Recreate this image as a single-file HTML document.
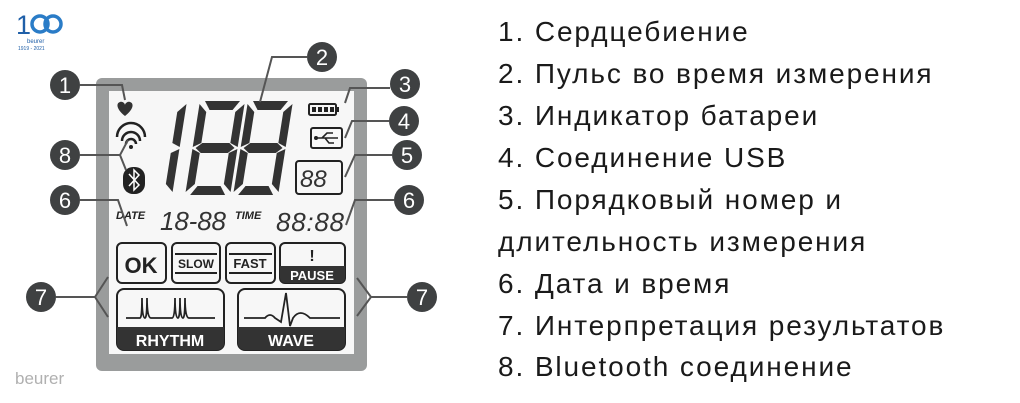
<!DOCTYPE html>
<html><head><meta charset="utf-8"><style>
html,body{margin:0;padding:0;background:#fff;width:1020px;height:403px;overflow:hidden}
svg{position:absolute;left:0;top:0}
.t{font-family:"Liberation Sans",sans-serif;font-size:28px;fill:#1a1a1a;letter-spacing:1.9px}
</style></head><body>
<svg width="1020" height="403" viewBox="0 0 1020 403">
<defs>
<g id="d8" fill="#333">
<polygon points="5,0 40,0 34,9 11,9"/>
<polygon points="0,3 8,11 8,42 0,46"/>
<polygon points="45,3 45,46 37,42 37,11"/>
<polygon points="3,47 9,42 36,42 42,47 36,52 9,52"/>
<polygon points="0,48 8,52 8,83 0,91"/>
<polygon points="45,48 45,91 37,83 37,52"/>
<polygon points="11,85 34,85 40,94 5,94"/>
</g>
</defs>
<!-- logo -->
<text x="16" y="34" font-family="Liberation Sans,sans-serif" font-size="27" fill="#1f5fa8" letter-spacing="-3">1</text>
<circle cx="40" cy="24" r="8" fill="none" stroke="#2a7cc7" stroke-width="3.5"/>
<circle cx="53" cy="24" r="8" fill="none" stroke="#2a7cc7" stroke-width="3.5"/>
<text x="27" y="43" font-family="Liberation Sans,sans-serif" font-size="6" fill="#1f5fa8">beurer</text>
<text x="18" y="50" font-family="Liberation Sans,sans-serif" font-size="5" fill="#1f5fa8">1919 - 2021</text>
<text x="15" y="384" font-family="Liberation Sans,sans-serif" font-size="17" fill="#b0b0b0">beurer</text>
<!-- frame -->
<rect x="96" y="78" width="271" height="293" rx="6" fill="#9a9c9c"/>
<rect x="109" y="91" width="245" height="263" fill="#f7f7f7"/>
<!-- heart -->
<path d="M125,116 C116,109 116,103 120,102 C123,101 125,104 125,105 C125,104 127,101 130,102 C134,103 134,109 125,116Z" fill="#333"/>
<!-- wifi -->
<path d="M117,137 A14,14 0 0 1 145,137" fill="none" stroke="#222" stroke-width="2.5"/>
<path d="M122,141 A9,9 0 0 1 140,141" fill="none" stroke="#222" stroke-width="2.5"/>
<path d="M126,144 A5,5 0 0 1 136,144" fill="none" stroke="#222" stroke-width="2.5"/>
<circle cx="131" cy="147" r="2" fill="#222"/>
<!-- bluetooth -->
<rect x="123" y="167" width="22" height="27" rx="10" fill="#222"/>
<path d="M129,174 L139,185 L134,190 L134,170 L139,175 L129,186" fill="none" stroke="#fff" stroke-width="1.5"/>
<!-- big digits -->
<g transform="translate(178,101) skewX(-9)" fill="#333">
<polygon points="9,3 9,46 1,42 1,11"/>
<polygon points="9,48 9,91 1,83 1,52"/>
</g>
<g transform="translate(200,101) skewX(-9)"><use href="#d8"/></g>
<g transform="translate(248,101) skewX(-9)"><use href="#d8"/></g>
<!-- battery -->
<rect x="309" y="104" width="27" height="11" rx="1.5" fill="none" stroke="#222" stroke-width="2"/>
<rect x="336" y="107" width="3" height="5" fill="#222"/>
<rect x="312" y="107" width="4" height="5" fill="#222"/><rect x="318" y="107" width="4" height="5" fill="#222"/><rect x="324" y="107" width="4" height="5" fill="#222"/><rect x="330" y="107" width="4" height="5" fill="#222"/>
<!-- usb -->
<rect x="311" y="128" width="31" height="20" rx="2" fill="none" stroke="#222" stroke-width="2"/>
<path d="M316,138 L338,138 M322,138 L327,133 L333,133 M325,138 L329,143 L334,143" fill="none" stroke="#222" stroke-width="1.6"/>
<circle cx="316" cy="138" r="2" fill="#222"/>
<!-- 88 small box -->
<rect x="296" y="161" width="46" height="33" rx="3" fill="none" stroke="#222" stroke-width="2"/>
<text x="300" y="187" font-family="Liberation Sans,sans-serif" font-style="italic" font-size="24" fill="#333">88</text>
<!-- date/time -->
<text x="116" y="219" font-family="Liberation Sans,sans-serif" font-style="italic" font-weight="bold" font-size="11" fill="#222">DATE</text>
<text x="160" y="230" font-family="Liberation Sans,sans-serif" font-style="italic" font-size="26" fill="#333" textLength="66">18-88</text>
<text x="235" y="219" font-family="Liberation Sans,sans-serif" font-style="italic" font-weight="bold" font-size="11" fill="#222">TIME</text>
<text x="276" y="231" font-family="Liberation Sans,sans-serif" font-style="italic" font-size="26" fill="#333" textLength="68">88:88</text>
<!-- buttons -->
<g fill="none" stroke="#222" stroke-width="2">
<rect x="117" y="243" width="49" height="40" rx="5"/>
<rect x="172" y="243" width="48" height="40" rx="5"/>
<rect x="226" y="243" width="49" height="40" rx="5"/>
<rect x="280" y="243" width="65" height="40" rx="5"/>
<path d="M175,254 H217 M175,273 H217 M229,254 H272 M229,273 H272"/>
</g>
<path d="M280,266 H345 V278 a5,5 0 0 1 -5,5 H285 a5,5 0 0 1 -5,-5Z" fill="#333"/>
<g font-family="Liberation Sans,sans-serif" font-weight="bold" text-anchor="middle">
<text x="141" y="273" font-size="22" fill="#222">OK</text>
<text x="196" y="268" font-size="12" fill="#222">SLOW</text>
<text x="250" y="268" font-size="13" fill="#222">FAST</text>
<text x="312" y="261" font-size="16" fill="#222">!</text>
<text x="312" y="280" font-size="13" fill="#fff">PAUSE</text>
</g>
<!-- rhythm/wave -->
<rect x="117" y="289" width="107" height="61" rx="7" fill="none" stroke="#222" stroke-width="2"/>
<path d="M117,327 H224 V343 a7,7 0 0 1 -7,7 H124 a7,7 0 0 1 -7,-7Z" fill="#333"/>
<rect x="238" y="289" width="107" height="61" rx="7" fill="none" stroke="#222" stroke-width="2"/>
<path d="M238,327 H345 V343 a7,7 0 0 1 -7,7 H245 a7,7 0 0 1 -7,-7Z" fill="#333"/>
<g font-family="Liberation Sans,sans-serif" font-weight="bold" text-anchor="middle" fill="#fff" font-size="16">
<text x="170" y="346">RHYTHM</text><text x="291" y="346">WAVE</text>
</g>
<path d="M126,318 H140 Q142,318 142,298 Q142,318 145,318 Q147,318 147,298 Q147,318 151,318 H172 Q175,318 175,298 Q175,318 178,318 Q180,318 180,298 Q180,318 183,318 Q185,318 185,298 Q185,318 189,318 H215" fill="none" stroke="#222" stroke-width="1.8"/>
<path d="M244,318 H265 Q270,312 275,318 L281,322 L286,293 L290,326 L293,318 Q300,308 310,318 H340" fill="none" stroke="#222" stroke-width="1.8"/>
<!-- leaders -->
<g fill="none" stroke="#555" stroke-width="2">
<path d="M80,85 H122 L125,100"/>
<path d="M307,57 H272 L260,102"/>
<path d="M390,88 H350 L345,103"/>
<path d="M389,121 H352 L345,138"/>
<path d="M392,155 H355 L345,177"/>
<path d="M80,200 H118 L127,226"/>
<path d="M394,200 H355 L346,225"/>
<path d="M56,297 H95 M108,277 L95,297 L108,317"/>
<path d="M407,297 H371 M357,278 L371,297 L357,316"/>
<path d="M80,155 H120 M128,140 L120,155 L126,170"/>
</g>
<!-- numbered circles -->
<g fill="#3f4142">
<circle cx="65" cy="85" r="15"/><circle cx="322" cy="57" r="15"/><circle cx="405" cy="84" r="15"/>
<circle cx="404" cy="121" r="15"/><circle cx="407" cy="155" r="15"/><circle cx="65" cy="200" r="15"/>
<circle cx="409" cy="200" r="15"/><circle cx="41" cy="297" r="15"/><circle cx="422" cy="297" r="15"/>
<circle cx="65" cy="155" r="15"/>
</g>
<g font-family="Liberation Sans,sans-serif" font-size="22" fill="#fff" text-anchor="middle">
<text x="65" y="93">1</text><text x="322" y="65">2</text><text x="405" y="92">3</text>
<text x="404" y="129">4</text><text x="407" y="163">5</text><text x="65" y="208">6</text>
<text x="409" y="208">6</text><text x="41" y="305">7</text><text x="422" y="305">7</text>
<text x="65" y="163">8</text>
</g>
<!-- list -->
<text class="t" x="498" y="41">1. Сердцебиение</text>
<text class="t" x="498" y="83">2. Пульс во время измерения</text>
<text class="t" x="498" y="125">3. Индикатор батареи</text>
<text class="t" x="498" y="167">4. Соединение USB</text>
<text class="t" x="498" y="209">5. Порядковый номер и</text>
<text class="t" x="498" y="251">длительность измерения</text>
<text class="t" x="498" y="293">6. Дата и время</text>
<text class="t" x="498" y="335">7. Интерпретация результатов</text>
<text class="t" x="498" y="376">8. Bluetooth соединение</text>
</svg>
</body></html>
